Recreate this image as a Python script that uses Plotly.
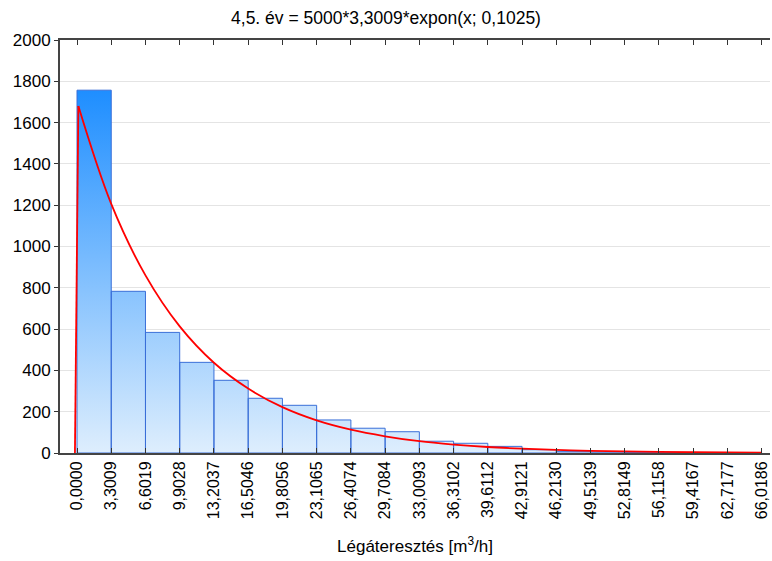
import plotly.graph_objects as go

# Histogram bin edges (m3/h) and counts
bin_edges = [0.0, 3.3009, 6.6019, 9.9028, 13.2037, 16.5046, 19.8056, 23.1065,
             26.4074, 29.7084, 33.0093, 36.3102, 39.6112, 42.9121, 46.2130,
             49.5139, 52.8149, 56.1158, 59.4167, 62.7177, 66.0186]
tick_labels = ["0,0000", "3,3009", "6,6019", "9,9028", "13,2037", "16,5046",
               "19,8056", "23,1065", "26,4074", "29,7084", "33,0093", "36,3102",
               "39,6112", "42,9121", "46,2130", "49,5139", "52,8149", "56,1158",
               "59,4167", "62,7177", "66,0186"]
counts = [1757, 783, 584, 439, 352, 265, 231, 160, 120, 103,
          57, 47, 32, 16, 8, 5, 3, 2, 1, 1]

# red fitted curve, values read at the bin edges
rise_x = [-0.2, 0.13]
rise_y = [0, 1680]
curve_x = [0.13, 3.3009, 6.6019, 9.9028, 13.2037, 16.5046, 19.8056, 23.1065,
           26.4074, 29.7084, 33.0093, 36.3102, 39.6112, 42.9121, 46.2130,
           49.5139, 52.8149, 56.1158, 59.4167, 62.7177, 66.0186]
curve_y = [1680, 1206, 860, 613, 437, 312, 222, 158, 113, 81,
           57, 41, 29, 21, 15, 10.5, 7.5, 5.4, 3.8, 2.7, 1.9]

# build bar outlines as one filled path
bx, by = [], []
for i, c in enumerate(counts):
    l, r = bin_edges[i], bin_edges[i + 1]
    bx += [l, l, r, r, l, None]
    by += [0, c, c, 0, 0, None]

fig = go.Figure()
fig.add_trace(go.Scatter(
    x=bx, y=by, mode="lines", fill="toself",
    line=dict(color="#3A6FD8", width=1),
    fillgradient=dict(type="vertical", start=0, stop=max(counts),
                      colorscale=[[0, "#DEEEFD"], [1, "#1E8EFF"]]),
    hoverinfo="skip", showlegend=False,
))
fig.add_trace(go.Scatter(x=rise_x, y=rise_y, mode="lines",
                         line=dict(color="#FF0000", width=1.8), showlegend=False))
fig.add_trace(go.Scatter(x=curve_x, y=curve_y, mode="lines",
                         line=dict(color="#FF0000", width=1.8, shape="spline", smoothing=1),
                         showlegend=False))

fig.update_layout(
    width=772, height=561,
    margin=dict(l=60, r=2, t=40, b=108, autoexpand=False),
    paper_bgcolor="white", plot_bgcolor="white",
    font=dict(family="Liberation Sans, Arial", color="black"),
    title=dict(text="4,5. év = 5000*3,3009*expon(x; 0,1025)", x=0.5, xanchor="center",
               y=1 - 18 / 561, yref="container", yanchor="middle", font=dict(size=17.5)),
)
fig.update_xaxes(
    range=[-1.64, 66.82], tickvals=bin_edges, ticktext=tick_labels, tickangle=-90,
    tickfont=dict(size=16), showgrid=False, zeroline=False, automargin=False,
    showline=True, linecolor="#444444", linewidth=2, mirror="ticks",
    ticks="inside", ticklen=5, tickcolor="#333333",
    title=dict(text="Légáteresztés [m<sup>3</sup>/h]", font=dict(size=17), standoff=22),
)
fig.update_yaxes(
    range=[0, 2000], dtick=200, tickfont=dict(size=17), automargin=False,
    showgrid=True, gridcolor="#E4E4E4", gridwidth=1, zeroline=False,
    showline=True, linecolor="#444444", linewidth=2,
    ticks="outside", ticklen=4, tickcolor="#333333",
)

fig.write_html("out.html", config={"displayModeBar": False},
               post_script="document.body.style.margin='0px';")
